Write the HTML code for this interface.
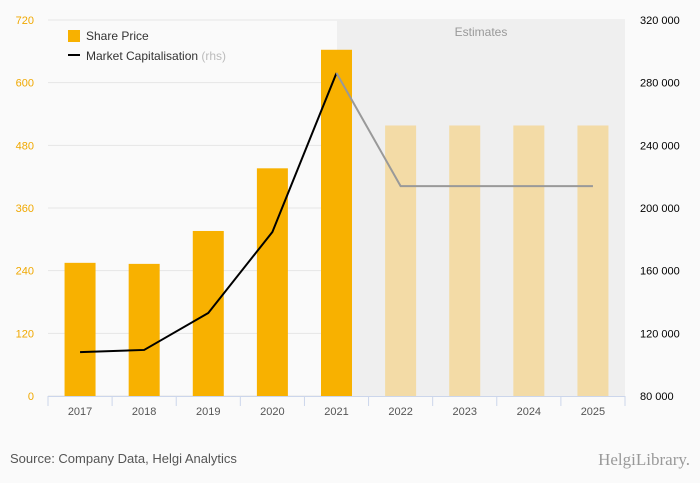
<!DOCTYPE html>
<html><head><meta charset="utf-8"><style>
body{margin:0;background:#fafafa;font-family:"Liberation Sans",sans-serif}
svg{display:block}
</style></head><body>
<svg width="700" height="483">
<rect width="700" height="483" fill="#fafafa"/>
<g id="grid"></g>
<rect x="337" y="20" width="288" height="376" fill="#efefef"/>
<text x="481" y="36" text-anchor="middle" font-size="12" fill="#999">Estimates</text>
<g id="bars"></g>
<g id="axes"></g>
<path id="line1" fill="none" stroke="#000" stroke-width="2"/>
<path id="line2" fill="none" stroke="#999" stroke-width="2"/>
<g>
<rect x="68" y="30" width="12" height="12" fill="#f8b100"/>
<text x="86" y="40" font-size="12" fill="#333">Share Price</text>
<rect x="68" y="54" width="12" height="2" fill="#000"/>
<text x="86" y="60" font-size="12" fill="#333">Market Capitalisation <tspan fill="#bbb">(rhs)</tspan></text>
</g>
<text x="10" y="463" font-size="13" fill="#555">Source: Company Data, Helgi Analytics</text>
<text x="690" y="465" text-anchor="end" font-size="17" font-family="Liberation Serif,serif" fill="#999">HelgiLibrary.</text>
</svg>
<script>
const categories=["2017","2018","2019","2020","2021","2022","2023","2024","2025"];
const sharePrice=[255,253,316,436,663,518,518,518,518];
const marketCap=[108000,109400,133000,184700,286200,214000,214000,214000,214000];
const estimateStart=5;
const leftTicks=[0,120,240,360,480,600,720];
const rightTicks=[80000,120000,160000,200000,240000,280000,320000];
const X0=48,X1=625,Y0=396,Y1=20;
const bw=(X1-X0)/categories.length;
const xc=i=>X0+bw*(i+0.5);
const yL=v=>Y0-(v-0)/720*(Y0-Y1);
const yR=v=>Y0-(v-80000)/240000*(Y0-Y1);
const NS="http://www.w3.org/2000/svg";
function mk(t,a,p,txt){const e=document.createElementNS(NS,t);for(const k in a)e.setAttribute(k,a[k]);if(txt!==undefined)e.textContent=txt;p.appendChild(e);return e;}
const grid=document.getElementById('grid'),axes=document.getElementById('axes'),bars=document.getElementById('bars');
leftTicks.forEach((v,i)=>{
 const l=mk('line',{x1:X0,x2:X1,y1:yL(v),y2:yL(v),stroke:'#e6e6e6'},grid);
 
 
 const t=mk('text',{x:34,y:yL(v)+4,'text-anchor':'end','font-size':11,fill:'#f0a800'},axes,String(v));
 
 
});
rightTicks.forEach(v=>{
 const t=mk('text',{x:640,y:yR(v)+4,'font-size':11,fill:'#000'},axes,String(v).replace(/(\d+)(\d{3})$/,'$1 $2'));
 
 
});
const ax=mk('line',{x1:X0,x2:X1,y1:Y0+0.5,y2:Y0+0.5,stroke:'#ccd6eb'},axes);


for(let i=0;i<=categories.length;i++){
 const tk=mk('line',{x1:X0+bw*i,x2:X0+bw*i,y1:Y0,y2:Y0+10,stroke:'#ccd6eb'},axes);
 
 
}
categories.forEach((c,i)=>{
 const t=mk('text',{x:xc(i),y:415,'text-anchor':'middle','font-size':11,fill:'#555'},axes,c);
 
 
 const b=mk('rect',{x:xc(i)-15.5,y:yL(sharePrice[i]),width:31,height:Y0-yL(sharePrice[i]),fill:i>=estimateStart?'#f3dba6':'#f8b100'},bars);
 
 
});
let d1='',d2='';
marketCap.forEach((v,i)=>{
 if(i<estimateStart)d1+=(i?'L':'M')+xc(i)+' '+yR(v);
 if(i>=estimateStart-1)d2+=(i==estimateStart-1?'M':'L')+xc(i)+' '+yR(v);
});
document.getElementById('line1').setAttribute('d',d1);
document.getElementById('line2').setAttribute('d',d2);
</script>
</body></html>
